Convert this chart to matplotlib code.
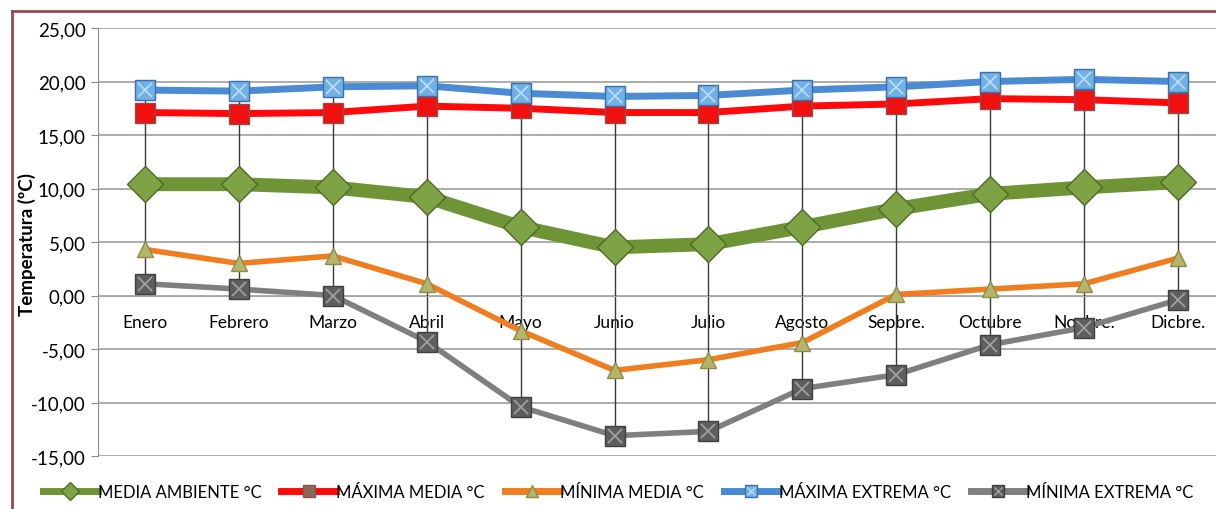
import matplotlib.pyplot as plt
from matplotlib.lines import Line2D
from matplotlib.legend_handler import HandlerTuple

meses = ["Enero", "Febrero", "Marzo", "Abril", "Mayo", "Junio", "Julio",
         "Agosto", "Sepbre.", "Octubre", "Novbre.", "Dicbre."]

media_ambiente = [10.4, 10.4, 10.1, 9.2, 6.4, 4.5, 4.8, 6.4, 8.1, 9.5, 10.1, 10.6]
maxima_media = [17.1, 17.0, 17.1, 17.7, 17.5, 17.1, 17.1, 17.7, 17.9, 18.4, 18.3, 18.0]
minima_media = [4.3, 3.0, 3.7, 1.1, -3.3, -7.0, -6.0, -4.4, 0.1, 0.6, 1.1, 3.5]
maxima_extrema = [19.2, 19.1, 19.5, 19.6, 18.9, 18.6, 18.7, 19.2, 19.5, 20.0, 20.2, 20.0]
minima_extrema = [1.1, 0.6, 0.0, -4.3, -10.4, -13.1, -12.7, -8.7, -7.4, -4.6, -3.0, -0.4]

y_ticks = [25, 20, 15, 10, 5, 0, -5, -10, -15]

plt.rcParams["font.family"] = ["Lato", "DejaVu Sans"]

fig = plt.figure(figsize=(12.16, 5.10), dpi=100)
ax = fig.add_axes([98 / 1216, 53 / 510, 1127 / 1216, 428 / 510])

x = list(range(len(meses)))

# lineas verticales entre maxima y minima extrema
ax.vlines(x, minima_extrema, maxima_extrema, color="#3a3a3a", lw=1.0, zorder=2)

l_ext_max, = ax.plot(x, maxima_extrema, color="#4a8bd4", lw=5, marker="s", ms=14,
                     mfc="#6fb0e6", mec="#3d6fa8", mew=1, zorder=4)
x_ext_max, = ax.plot(x, maxima_extrema, ls="none", marker="x", ms=10, mec="#b9dcf5",
                     mew=1.3, zorder=5)
l_max, = ax.plot(x, maxima_media, color="#ff0a0a", lw=5, marker="s", ms=14,
                 mfc="#f01010", mec="#8a5050", mew=1, zorder=3)
l_media, = ax.plot(x, media_ambiente, color="#6e9436", lw=10, marker="D", ms=18,
                   mfc="#7ea344", mec="#4e6a26", mew=1, zorder=3)
l_min, = ax.plot(x, minima_media, color="#f07d1e", lw=4, marker="^", ms=12,
                 mfc="#b5b56a", mec="#8c8c4a", mew=1, zorder=3)
l_ext_min, = ax.plot(x, minima_extrema, color="#7f7f7f", lw=4, marker="s", ms=14,
                     mfc="#5e5e5e", mec="#404040", mew=1, zorder=4)
x_ext_min, = ax.plot(x, minima_extrema, ls="none", marker="x", ms=10, mec="#a0a0a0",
                     mew=1.3, zorder=5)

ax.set_xlim(-0.5, len(meses) - 0.5)
ax.set_ylim(-15, 25)
ax.spines["bottom"].set_position(("data", 0))
ax.spines["bottom"].set_color("#a6a6a6")
for s in ["top", "right"]:
    ax.spines[s].set_visible(False)
ax.spines["left"].set_color("#8c8c8c")

ax.set_yticks(y_ticks)
ax.set_yticklabels([f"{v:.2f}".replace(".", ",") for v in y_ticks])
ax.set_xticks(x)
ax.set_xticklabels(meses)
ax.tick_params(axis="x", length=0, pad=13, labelsize=12.5)
ax.tick_params(axis="y", length=5, direction="out", color="#8c8c8c", pad=4,
               labelsize=13.5)
ax.grid(axis="y", color="#a6a6a6", lw=1.3)
ax.set_axisbelow(True)

fig.text(0.022, 0.52, "Temperatura (ºC)", rotation=90, fontsize=13.5,
         fontweight="bold", ha="center", va="center")

# muestras de la leyenda: linea fina con marcador pequeño
def muestra(color, marker, mfc, mec, cruz=None):
    linea = Line2D([], [], color=color, lw=5, marker=marker, ms=9, mfc=mfc, mec=mec)
    if cruz is None:
        return linea
    return (linea, Line2D([], [], ls="none", marker="x", ms=6, mec=cruz, mew=1))

handles = [muestra("#6e9436", "D", "#7ea344", "#4e6a26"),
           muestra("#ff0a0a", "s", "#8a6a50", "#8a5050"),
           muestra("#f07d1e", "^", "#b5b56a", "#8c8c4a"),
           muestra("#4a8bd4", "s", "#6fb0e6", "#3d6fa8", "#b9dcf5"),
           muestra("#7f7f7f", "s", "#5e5e5e", "#404040", "#a0a0a0")]
labels = ["MEDIA AMBIENTE °C", "MÁXIMA MEDIA °C", "MÍNIMA MEDIA °C",
          "MÁXIMA EXTREMA °C", "MÍNIMA EXTREMA °C"]
fig.legend(handles, labels, loc="center", bbox_to_anchor=(0.508, 0.033), ncol=5,
           frameon=False, fontsize=12, handlelength=3.3, columnspacing=1.2,
           handletextpad=0.0,
           handler_map={tuple: HandlerTuple(ndivide=1, pad=0)})

# marco exterior
fig.add_artist(Line2D([12 / 1216, 12 / 1216], [0, 1 - 12 / 510], color="#a04550",
                      lw=2, transform=fig.transFigure))
fig.add_artist(Line2D([12 / 1216, 1], [1 - 12 / 510, 1 - 12 / 510], color="#a04550",
                      lw=2, transform=fig.transFigure))

fig.savefig("out.png", dpi=100)
